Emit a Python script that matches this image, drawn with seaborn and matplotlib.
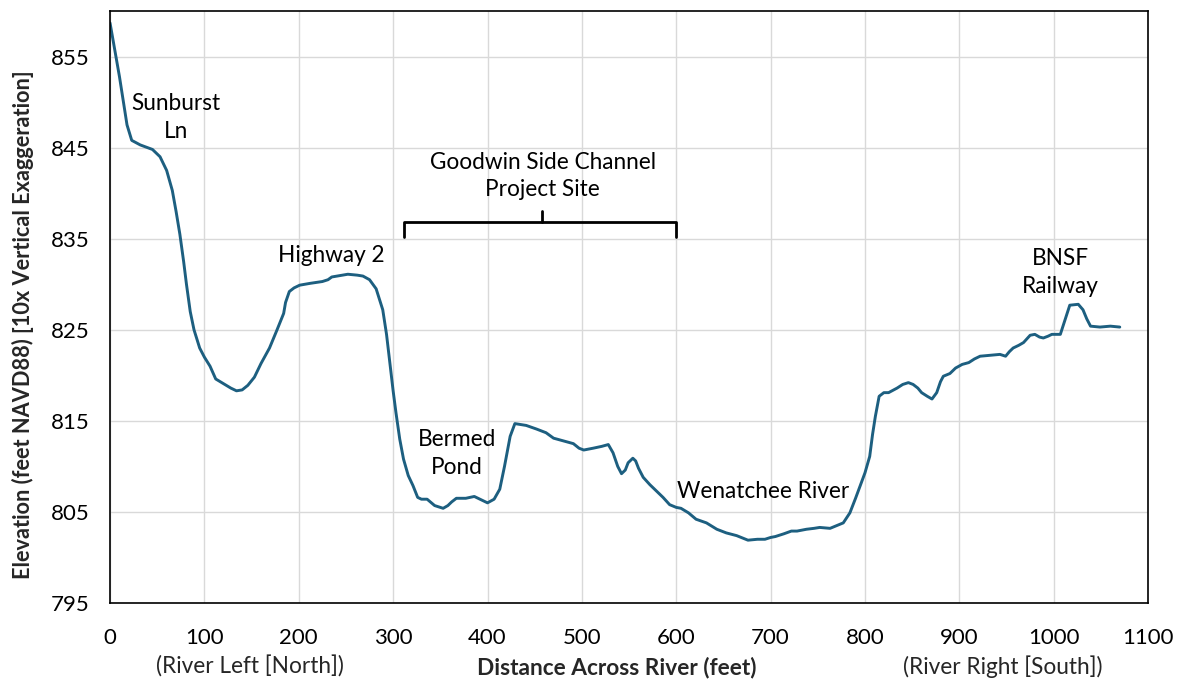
import numpy as np
import pandas as pd
import matplotlib
matplotlib.use("Agg")
import matplotlib.pyplot as plt
import seaborn as sns

# Cross-section survey: distance across river (ft) and elevation (ft NAVD88)
distance = [0, 10, 18, 23, 32, 45, 53, 60, 66, 70, 74, 78, 81, 85, 89, 95, 100, 106,
            112, 120, 128, 134, 140, 146, 153, 160, 169, 177, 184, 186, 190, 195, 201,
            212, 225, 231, 235, 252, 262, 268, 275, 282, 289, 293, 297, 300, 303, 307,
            311, 316, 321, 326, 330, 336, 344, 353, 358, 362, 367, 377, 386, 392, 400,
            407, 413, 418, 424, 429, 441, 452, 462, 470, 477, 491, 497, 502, 512, 521,
            528, 533, 538, 542, 546, 549, 554, 557, 560, 565, 572, 579, 586, 593, 600,
            605, 613, 621, 632, 643, 653, 664, 676, 686, 694, 700, 705, 714, 722, 728,
            738, 746, 752, 763, 770, 777, 784, 790, 795, 800, 805, 808, 811, 815, 820,
            825, 834, 840, 846, 851, 856, 860, 866, 871, 876, 880, 883, 890, 896, 903,
            910, 916, 922, 933, 943, 949, 953, 957, 963, 968, 975, 980, 985, 989, 994,
            998, 1007, 1012, 1017, 1026, 1031, 1035, 1039, 1049, 1060, 1070]
elevation = [858.7, 852.8, 847.5, 845.8, 845.3, 844.8, 844.0, 842.5, 840.3, 838.0,
             835.5, 832.5, 830.0, 827.0, 825.0, 823.0, 822.0, 821.0, 819.6, 819.1,
             818.6, 818.3, 818.4, 818.9, 819.8, 821.3, 823.0, 825.0, 826.8, 828.0,
             829.2, 829.6, 829.9, 830.1, 830.3, 830.5, 830.8, 831.1, 831.0, 830.9,
             830.5, 829.5, 827.2, 824.5, 821.0, 818.3, 815.9, 813.0, 810.8, 809.0,
             807.9, 806.6, 806.4, 806.4, 805.7, 805.4, 805.7, 806.1, 806.5, 806.5,
             806.7, 806.4, 806.0, 806.4, 807.5, 810.0, 813.3, 814.7, 814.5, 814.1,
             813.7, 813.1, 812.9, 812.5, 812.0, 811.8, 812.0, 812.2, 812.4, 811.5,
             810.0, 809.2, 809.6, 810.4, 810.9, 810.6, 809.8, 808.8, 808.0, 807.3,
             806.6, 805.8, 805.5, 805.4, 804.9, 804.2, 803.8, 803.1, 802.7, 802.4,
             801.9, 802.0, 802.0, 802.2, 802.3, 802.6, 802.9, 802.9, 803.1, 803.2,
             803.3, 803.2, 803.5, 803.8, 804.9, 806.5, 807.9, 809.3, 811.1, 813.5,
             815.5, 817.7, 818.1, 818.1, 818.6, 819.0, 819.2, 819.0, 818.6, 818.1,
             817.7, 817.4, 818.1, 819.3, 819.9, 820.2, 820.8, 821.2, 821.4, 821.8,
             822.1, 822.2, 822.3, 822.1, 822.6, 823.0, 823.3, 823.6, 824.4, 824.5,
             824.2, 824.1, 824.3, 824.5, 824.5, 826.1, 827.7, 827.8, 827.2, 826.2,
             825.4, 825.3, 825.4, 825.3]

x_ticks = list(range(0, 1101, 100))
y_ticks = [795, 805, 815, 825, 835, 845, 855]

labels = ["Sunburst\nLn", "Highway 2", "Goodwin Side Channel\nProject Site",
          "Bermed\nPond", "Wenatchee River", "BNSF\nRailway"]
label_x = [69.5, 235, 458.5, 367.5, 692, 1007]
label_y = [848.3, 833.2, 841.9, 811.4, 807.3, 831.3]

FS = 16.3

sns.set_theme(style="white")
plt.rcParams["font.family"] = ["Lato", "DejaVu Sans"]

fig = plt.figure(figsize=(11.83, 6.81), dpi=100)
ax = fig.add_axes([0.093, 0.1145, 0.8775, 0.8693])

df = pd.DataFrame({"distance": distance, "elevation": elevation})
sns.lineplot(data=df, x="distance", y="elevation", ax=ax, color="#1d5f80",
             linewidth=2.1, solid_joinstyle="round", solid_capstyle="round")

ax.set_xlim(0, 1100)
ax.set_ylim(795, 860)
ax.set_xticks(x_ticks)
ax.set_yticks(y_ticks)
ax.grid(True, color="#d9d9d9", linewidth=1.0)
ax.set_axisbelow(True)
for s in ax.spines.values():
    s.set_color("black")
    s.set_linewidth(1.2)
ax.tick_params(axis="both", labelsize=16, length=0, colors="black")
ax.tick_params(axis="x", pad=18)
ax.tick_params(axis="y", pad=15)

ax.set_xlabel("")
ax.set_ylabel("")
fig.text(23 / 1183, 1 - 325 / 681,
         "Elevation (feet NAVD88) [10x Vertical Exaggeration]",
         rotation=90, ha="center", va="center", fontsize=15.7, fontweight="bold")

for t, xx, yy in zip(labels, label_x, label_y):
    ax.text(xx, yy, t, ha="center", va="center", fontsize=FS,
            linespacing=1.38, color="black")

# Bracket over the project reach
bx0, bx1, bmid = 312, 600, 458
ax.plot([bx0, bx0, bx1, bx1], [835.2, 836.8, 836.8, 835.2], color="black",
        linewidth=2.0, solid_joinstyle="round")
ax.plot([bmid, bmid], [836.8, 838.0], color="black", linewidth=2.0)

fig.text(250 / 1183, 1 - 667 / 681, "(River Left [North])", ha="center",
         va="center", fontsize=FS)
fig.text(617 / 1183, 1 - 667 / 681, "Distance Across River (feet)", ha="center",
         va="center", fontsize=FS, fontweight="bold")
fig.text(1003 / 1183, 1 - 667 / 681, "(River Right [South])", ha="center",
         va="center", fontsize=FS)

fig.savefig("out.png", dpi=100)
